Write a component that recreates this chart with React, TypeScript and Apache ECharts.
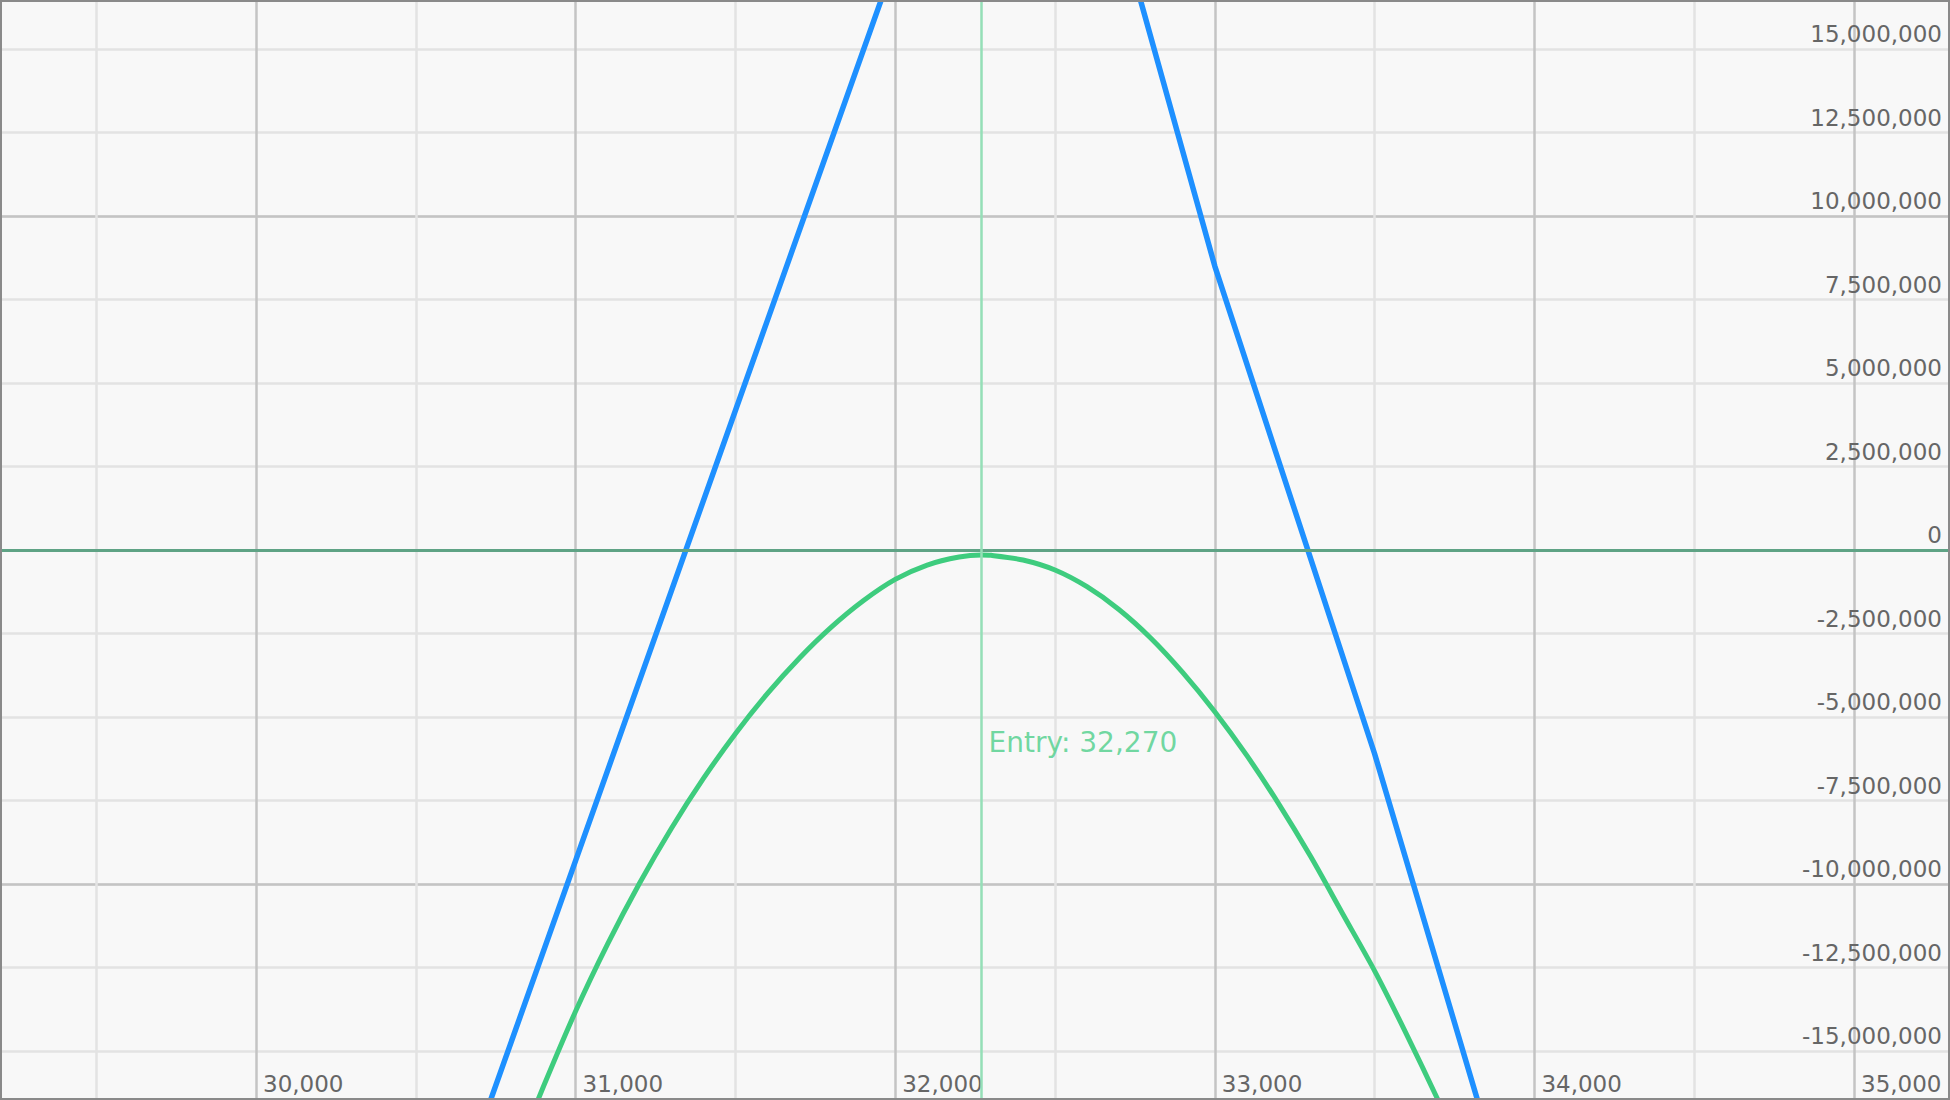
import React, { useEffect, useRef } from "react";
import * as echarts from "echarts";

// ---- data ----
const entryPrice = 32270;
const entryLabelY = -5750000;

// P&L at expiry (blue)
const expiryX = [30000, 31000, 32000, 32410, 33000, 33500, 34000, 35000];
const expiryPnl = [-36250000, -9300000, 17650000, 28700000, 8500000, -6100000, -22200000, -54400000];

// current P&L (green)
const currentX = [
  30800, 30900, 31000, 31100, 31200, 31300, 31400, 31500, 31600, 31700, 31800, 31900,
  32000, 32100, 32200, 32270, 32300, 32400, 32500, 32600, 32700, 32800, 32900, 33000,
  33100, 33200, 33300, 33400, 33500, 33600, 33700, 33800,
];
const currentPnl = [
  -18400000, -16050000, -13810000, -11800000, -9980000, -8330000, -6840000, -5500000,
  -4300000, -3240000, -2310000, -1520000, -880000, -450000, -210000, -150000, -160000,
  -300000, -600000, -1100000, -1780000, -2640000, -3670000, -4840000, -6150000, -7600000,
  -9180000, -10890000, -12600000, -14500000, -16500000, -18600000,
];

// axis ticks
const xMin = 29000;
const xMax = 36000;
const xStep = 1000;
const xShownMin = 30000;
const xShownMax = 35000;
const yMin = -20000000;
const yMax = 20000000;
const yLabelStep = 2500000;
const yMajorStep = 10000000;
const yShownAbs = 15000000;

const FONT = "DejaVu Sans";
const fmt = (v: number) => Math.round(v).toLocaleString("en-US");

export default function App() {
  const ref = useRef<HTMLDivElement>(null);

  useEffect(() => {
    if (!ref.current) return;
    const chart = echarts.init(ref.current, null, { renderer: "svg" });
    const option: any = {
      animation: false,
      backgroundColor: "#f8f8f8",
      textStyle: { fontFamily: FONT },
      grid: {
        left: -63.6,
        top: -118,
        width: 2237.2,
        height: 1336,
        show: false,
        containLabel: false,
        outerBoundsMode: "none",
      },
      xAxis: {
        type: "value",
        min: xMin,
        max: xMax,
        interval: xStep,
        axisLine: { show: false },
        axisTick: { show: false },
        axisLabel: {
          inside: true,
          margin: 134,
          align: "left",
          verticalAlign: "middle",
          padding: [0, 0, 0, 7],
          color: "#666666",
          fontSize: 23,
          fontFamily: FONT,
          hideOverlap: false,
          showMinLabel: false,
          showMaxLabel: false,
          formatter: (v: number) => (v >= xShownMin && v <= xShownMax ? fmt(v) : ""),
        },
        splitLine: { show: true, lineStyle: { color: "#c4c4c4", width: 2.5 } },
        minorTick: { show: false, splitNumber: 2 },
        minorSplitLine: { show: true, lineStyle: { color: "#e3e3e3", width: 2.5 } },
      },
      yAxis: [
        {
          type: "value",
          position: "right",
          min: yMin,
          max: yMax,
          interval: yLabelStep,
          axisLine: { show: false },
          axisTick: { show: false },
          axisLabel: {
            inside: true,
            margin: 231.6,
            align: "right",
            verticalAlign: "bottom",
            lineHeight: 30,
            color: "#666666",
            fontSize: 23,
            fontFamily: FONT,
            hideOverlap: false,
            showMinLabel: false,
            showMaxLabel: false,
            formatter: (v: number) => (Math.abs(v) <= yShownAbs ? fmt(v) : ""),
          },
          splitLine: { show: true, lineStyle: { color: "#e3e3e3", width: 2.5 } },
        },
        {
          type: "value",
          position: "right",
          min: yMin,
          max: yMax,
          interval: yMajorStep,
          axisLine: { show: false },
          axisTick: { show: false },
          axisLabel: { show: false },
          splitLine: { show: true, lineStyle: { color: "#c4c4c4", width: 2.5 } },
        },
      ],
      series: [
        {
          type: "line",
          name: "refs",
          data: [],
          z: 1,
          markLine: {
            silent: true,
            symbol: "none",
            label: { show: false },
            animation: false,
            data: [
              { yAxis: 0, lineStyle: { color: "#5fa385", width: 3, type: "solid" } },
              { xAxis: entryPrice, lineStyle: { color: "#95dfb7", width: 2.5, type: "solid" } },
            ],
          },
        },
        {
          type: "line",
          name: "Current",
          data: currentX.map((x, i) => [x, currentPnl[i]]),
          showSymbol: false,
          smooth: 0.3,
          z: 3,
          lineStyle: { color: "#3ecc7e", width: 5 },
          itemStyle: { color: "#3ecc7e" },
        },
        {
          type: "line",
          name: "Expiry",
          data: expiryX.map((x, i) => [x, expiryPnl[i]]),
          showSymbol: false,
          z: 4,
          lineStyle: { color: "#1e90ff", width: 5.5 },
          itemStyle: { color: "#1e90ff" },
        },
        {
          type: "scatter",
          name: "entryLabel",
          data: [[entryPrice, entryLabelY]],
          symbolSize: 0,
          z: 5,
          silent: true,
          label: {
            show: true,
            position: "right",
            distance: 7,
            color: "#4ccf89",
            fontSize: 28,
            fontFamily: FONT,
            formatter: () => "Entry: " + fmt(entryPrice),
          },
        },
      ],
    };
    chart.setOption(option);
    return () => chart.dispose();
  }, []);

  return (
    <div style={{ position: "fixed", left: 0, top: 0, width: 1950, height: 1100 }}>
      <div ref={ref} style={{ width: 1950, height: 1100 }} />
      <div
        style={{
          position: "absolute",
          left: 0,
          top: 0,
          width: 1950,
          height: 1100,
          boxSizing: "border-box",
          border: "2px solid #8a8a8a",
          pointerEvents: "none",
        }}
      />
    </div>
  );
}
